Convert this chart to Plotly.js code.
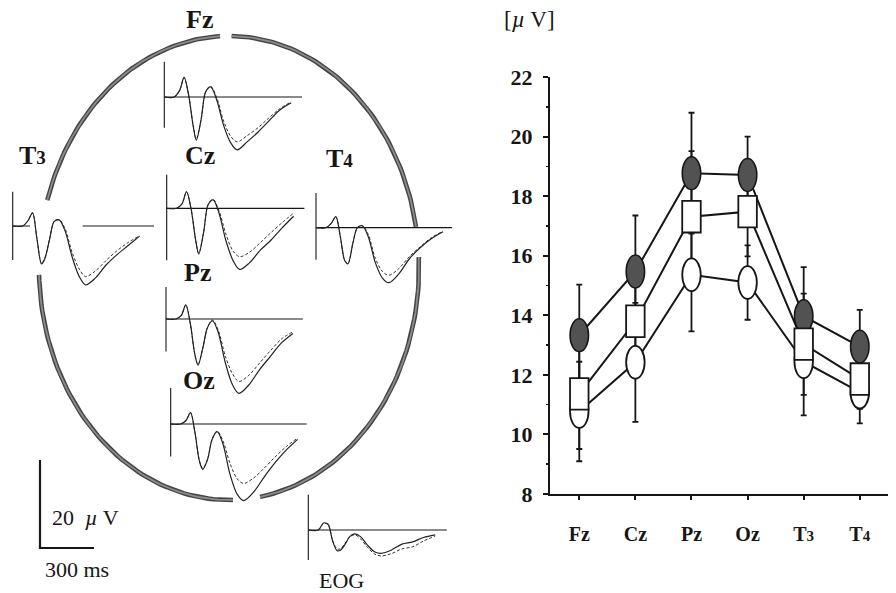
<!DOCTYPE html>
<html><head><meta charset="utf-8">
<script src="https://cdn.plot.ly/plotly-3.0.1.min.js"></script>
<style>html,body{margin:0;padding:0;background:#fff;}#chart{width:896px;height:593px;}</style>
</head><body><div id="chart"></div>
<script>
// ---------- Right panel: amplitude per electrode (µV) ----------
const categories = ['Fz', 'Cz', 'Pz', 'Oz', 'T3', 'T4'];
const tickLabels = ['Fz', 'Cz', 'Pz', 'Oz', 'T<span style="font-size:15px">3</span>', 'T<span style="font-size:15px">4</span>'];
const filledMean = [13.33, 15.47, 18.77, 18.71, 13.97, 12.95];
const filledSD   = [1.70, 1.88, 2.03, 1.29, 1.65, 1.23];
const squareMean = [11.36, 13.80, 17.31, 17.48, 13.03, 11.86];
const squareSD   = [1.85, 1.60, 2.20, 1.50, 1.70, 1.00];
const openMean   = [10.77, 12.42, 15.36, 15.10, 12.44, 11.42];
const openSD     = [1.67, 2.00, 1.90, 1.25, 1.80, 1.05];
const yTicks = [8, 10, 12, 14, 16, 18, 20, 22];

// ---------- Left panel: waveforms (time in ms, amplitude in µV) ----------
const timeMs    = [0, 55, 85, 110, 135, 160, 178, 205, 230, 258, 290, 330, 370, 405, 460, 520, 580, 640, 705];
const fzSolid   = [0, 0, 1.5, 4.5, 0.5, -6.5, -9.8, -5.0, 1.2, 2.3, -0.5, -6.5, -10.5, -12.0, -10.2, -8.0, -5.5, -3.0, -1.3];
const fzDashed  = [0, 0, 1.5, 4.3, 0.5, -6.3, -9.5, -5.0, 1.2, 2.4, 0.0, -5.5, -9.0, -10.2, -8.8, -7.0, -4.8, -2.7, -1.1];
const czSolid   = [0, 0, 1.0, 3.8, 0.0, -7.0, -10.4, -5.5, 0.8, 1.9, -1.0, -7.5, -12.0, -13.9, -12.4, -9.5, -7.2, -4.5, -1.8];
const czDashed  = [0, 0, 1.0, 3.7, 0.0, -7.0, -10.2, -5.5, 0.8, 2.0, -0.5, -6.0, -9.8, -11.0, -10.0, -7.8, -5.5, -3.3, -1.1];
const pzSolid   = [0, 0, 0.8, 3.2, -1.0, -8.0, -10.5, -6.5, -2.0, -0.4, -3.0, -10.0, -15.0, -16.9, -15.0, -11.5, -8.5, -5.5, -3.3];
const pzDashed  = [0, 0, 0.8, 3.2, -1.0, -8.0, -10.3, -6.5, -2.0, -0.2, -2.5, -8.5, -12.5, -14.2, -12.8, -10.0, -7.2, -4.6, -2.9];
const ozSolid   = [0, 0, 0.8, 2.6, -2.0, -8.5, -10.3, -8.0, -3.5, -1.75, -4.5, -11.5, -16.0, -17.4, -15.5, -12.0, -8.8, -6.0, -3.5];
const ozDashed  = [0, 0, 0.8, 2.6, -2.0, -8.5, -10.0, -8.0, -3.5, -1.6, -3.8, -9.0, -12.5, -13.5, -12.3, -10.0, -7.5, -5.2, -3.2];
const t3Solid   = [0, 0, 1.2, 3.0, -3.0, -8.6, -7.5, -3.0, 1.0, 1.4, -1.0, -7.0, -11.5, -13.4, -11.8, -8.8, -6.5, -4.5, -2.3];
const t3Dashed  = [0, 0, 1.2, 3.0, -3.0, -8.5, -7.3, -3.0, 1.0, 1.4, -0.5, -6.0, -9.8, -11.5, -10.2, -7.8, -5.6, -3.8, -2.2];
const t4Solid   = [0, 0, 1.0, 2.5, -2.0, -7.5, -8.2, -3.5, 0.0, 0.4, -2.0, -8.0, -11.5, -12.5, -10.5, -7.0, -4.5, -2.5, -0.9];
const t4Dashed  = [0, 0, 1.0, 2.5, -2.0, -7.5, -8.0, -3.5, 0.0, 0.5, -1.5, -7.0, -10.0, -10.8, -9.3, -6.5, -4.3, -2.3, -0.8];
const eogSolid  = [0, 0, 1.6, 1.3, -2.5, -4.7, -4.6, -3.2, -1.5, -0.9, -1.5, -3.5, -5.0, -5.3, -4.6, -3.2, -2.7, -1.7, -1.1];
const eogDashed = [0, 0, 1.5, 1.2, -2.4, -4.3, -4.3, -3.0, -1.6, -1.1, -2.0, -4.0, -5.5, -5.9, -5.4, -4.3, -3.8, -2.5, -1.4];
const scaleMs = 300;
const scaleUv = 20;

// ---------- layout geometry (pixels) ----------
const W = 896, H = 593;
const PX_PER_MS = 0.18, PX_PER_UV = 4.4;
const SERIF = 'Liberation Serif, Times New Roman, serif';
const INK = '#161616';
const px = x => x / W;
const py = y => 1 - y / H;

const waves = [
  {id: 3, solid: fzSolid,  dashed: fzDashed,  ox: 164.3, oy: 97,    vTop: 8,   vBot: -7,    base: [[0, 765]]},
  {id: 4, solid: czSolid,  dashed: czDashed,  ox: 166.7, oy: 208.3, vTop: 7.6, vBot: -11.8, base: [[0, 765]]},
  {id: 5, solid: pzSolid,  dashed: pzDashed,  ox: 166,   oy: 319,   vTop: 7.3, vBot: -7.4,  base: [[0, 760]]},
  {id: 6, solid: ozSolid,  dashed: ozDashed,  ox: 170.7, oy: 424,   vTop: 8.2, vBot: -7.4,  base: [[0, 755]]},
  {id: 7, solid: t3Solid,  dashed: t3Dashed,  ox: 12.7,  oy: 226,   vTop: 7.8, vBot: -7.7,  base: [[0, 96], [389, 785]]},
  {id: 8, solid: t4Solid,  dashed: t4Dashed,  ox: 316,   oy: 227.7, vTop: 7.9, vBot: -7.3,  base: [[0, 755]]},
  {id: 9, solid: eogSolid, dashed: eogDashed, ox: 308.3, oy: 530,   vTop: 8,   vBot: -6.8,  base: [[0, 769]], yr: [-8, 9.5]}
];

const traces = [];
const layout = {
  width: W, height: H,
  margin: {l: 0, r: 0, t: 0, b: 0, pad: 0},
  paper_bgcolor: '#fff', plot_bgcolor: 'rgba(0,0,0,0)',
  showlegend: false,
  hovermode: false,
  shapes: [],
  annotations: []
};

// ---------- right chart ----------
const xIdx = categories.map((c, i) => i);
function seriesTrace(mean, sd) {
  return {
    type: 'scatter', mode: 'lines', x: xIdx, y: mean, xaxis: 'x', yaxis: 'y',
    line: {color: INK, width: 2},
    error_y: {type: 'data', array: sd, visible: true, color: INK, thickness: 1.8, width: 3},
    hoverinfo: 'skip'
  };
}
traces.push(seriesTrace(filledMean, filledSD));
traces.push(seriesTrace(squareMean, squareSD));
traces.push(seriesTrace(openMean, openSD));

layout.xaxis = {
  domain: [px(550), px(888)], range: [-0.522, 5.503], anchor: 'y',
  tickmode: 'array', tickvals: xIdx, ticktext: tickLabels,
  ticks: 'outside', ticklen: 4, tickwidth: 2, tickcolor: INK,
  showline: true, linewidth: 2, linecolor: INK, showgrid: false, zeroline: false,
  tickfont: {family: SERIF, size: 20, color: INK, weight: 'bold'},
  ticklabelstandoff: 17, fixedrange: true
};
layout.yaxis = {
  domain: [py(494), py(77)], range: [8, 22], anchor: 'x',
  tickmode: 'array', tickvals: yTicks, ticktext: yTicks.map(String),
  ticks: 'outside', ticklen: 5, tickwidth: 2, tickcolor: INK,
  minor: {tickmode: 'linear', tick0: 8, dtick: 1, ticks: 'outside', ticklen: 2, tickwidth: 1.5, tickcolor: INK, showgrid: false},
  showline: true, linewidth: 2, linecolor: INK, showgrid: false, zeroline: false,
  tickfont: {family: SERIF, size: 22, color: INK, weight: 'bold'},
  ticklabelstandoff: 6, fixedrange: true
};

// markers as shapes in data coordinates (tall ellipses / rectangles)
const EW = 0.165, EH = 0.55, RW = 0.165, RH = 0.53;
filledMean.forEach((v, i) => layout.shapes.push({type: 'circle', xref: 'x', yref: 'y', layer: 'above',
  x0: i - EW, x1: i + EW, y0: v - EH, y1: v + EH, fillcolor: '#525252', line: {color: INK, width: 1.5}}));
openMean.forEach((v, i) => layout.shapes.push({type: 'circle', xref: 'x', yref: 'y', layer: 'above',
  x0: i - EW, x1: i + EW, y0: v - EH, y1: v + EH, fillcolor: '#fff', line: {color: INK, width: 1.8}}));
squareMean.forEach((v, i) => layout.shapes.push({type: 'rect', xref: 'x', yref: 'y', layer: 'above',
  x0: i - RW, x1: i + RW, y0: v - RH, y1: v + RH, fillcolor: '#fff', line: {color: INK, width: 1.8}}));

// ---------- head outline (canvas axis in pixel units) ----------
layout.xaxis2 = {domain: [0, px(500)], range: [0, 500], visible: false, anchor: 'y2', fixedrange: true};
layout.yaxis2 = {domain: [0, 1], range: [H, 0], visible: false, anchor: 'x2', fixedrange: true};
const head = {cx: 229, cy: 268, rx: 190, ry: 232};
const arcs = [[-89.2, -10.2], [-2.7, 80.6], [88.8, 178.3], [197, 267.3]];
arcs.forEach(([a0, a1]) => {
  const xs = [], ys = [];
  for (let a = a0; a <= a1 + 1e-9; a += (a1 - a0) / 60) {
    const r = a * Math.PI / 180;
    xs.push(head.cx + head.rx * Math.cos(r));
    ys.push(head.cy + head.ry * Math.sin(r));
  }
  traces.push({type: 'scatter', mode: 'lines', x: xs, y: ys, xaxis: 'x2', yaxis: 'y2',
    line: {color: '#444', width: 4.6}, hoverinfo: 'skip'});
  traces.push({type: 'scatter', mode: 'lines', x: xs, y: ys, xaxis: 'x2', yaxis: 'y2',
    line: {color: '#8c8c8c', width: 1.8}, hoverinfo: 'skip'});
});

// ---------- waveforms, each on its own ms / µV axes ----------
waves.forEach(w => {
  const xr = [-40, 820];
  const yr = w.yr || [-20, 10];
  layout['xaxis' + w.id] = {domain: [px(w.ox + xr[0] * PX_PER_MS), px(w.ox + xr[1] * PX_PER_MS)],
    range: xr, visible: false, anchor: 'y' + w.id, fixedrange: true};
  layout['yaxis' + w.id] = {domain: [py(w.oy - yr[0] * PX_PER_UV), py(w.oy - yr[1] * PX_PER_UV)],
    range: yr, visible: false, anchor: 'x' + w.id, fixedrange: true};
  const xa = 'x' + w.id, ya = 'y' + w.id;
  const bx = [], by = [];
  w.base.forEach((seg, k) => { if (k) { bx.push(null); by.push(null); } bx.push(seg[0], seg[1]); by.push(0, 0); });
  traces.push({type: 'scatter', mode: 'lines', x: bx, y: by, xaxis: xa, yaxis: ya,
    line: {color: INK, width: 1.2}, hoverinfo: 'skip', connectgaps: false});
  traces.push({type: 'scatter', mode: 'lines', x: [0, 0], y: [w.vBot, w.vTop], xaxis: xa, yaxis: ya,
    line: {color: INK, width: 1.1}, hoverinfo: 'skip'});
  traces.push({type: 'scatter', mode: 'lines', x: timeMs, y: w.dashed, xaxis: xa, yaxis: ya,
    line: {color: '#333', width: 1, dash: '3px,2px', shape: 'spline', smoothing: 0.9}, hoverinfo: 'skip'});
  traces.push({type: 'scatter', mode: 'lines', x: timeMs, y: w.solid, xaxis: xa, yaxis: ya,
    line: {color: '#222', width: 1.2, shape: 'spline', smoothing: 0.9}, hoverinfo: 'skip'});
});

// ---------- calibration bar ----------
(function () {
  const id = 10, ox = 40, oy = 548, xr = [-20, 330], yr = [-3, 23];
  layout['xaxis' + id] = {domain: [px(ox + xr[0] * PX_PER_MS), px(ox + xr[1] * PX_PER_MS)], range: xr, visible: false, anchor: 'y' + id, fixedrange: true};
  layout['yaxis' + id] = {domain: [py(oy - yr[0] * PX_PER_UV), py(oy - yr[1] * PX_PER_UV)], range: yr, visible: false, anchor: 'x' + id, fixedrange: true};
  traces.push({type: 'scatter', mode: 'lines', x: [0, 0, scaleMs], y: [scaleUv, 0, 0], xaxis: 'x10', yaxis: 'y10',
    line: {color: INK, width: 2.2}, hoverinfo: 'skip'});
})();

// ---------- text ----------
function label(text, x, y, size, bold, extra) {
  layout.annotations.push(Object.assign({
    text: text, x: px(x), y: py(y), xref: 'paper', yref: 'paper', showarrow: false,
    xanchor: 'center', yanchor: 'middle',
    font: {family: SERIF, size: size, color: INK, weight: bold ? 'bold' : 'normal'}
  }, extra || {}));
}
label('Fz', 199, 20, 26, true);
label('Cz', 200, 155, 26, true);
label('Pz', 197, 273, 26, true);
label('Oz', 199, 380, 26, true);
label('T<span style="font-size:19px">3</span>', 32, 155, 26, true);
label('T<span style="font-size:19px">4</span>', 339, 158, 26, true);
label('20&nbsp;&nbsp;<i>µ</i> V', 85, 517, 22, false);
label('300 ms', 77, 569, 22, false);
label('EOG', 341, 580, 22, false);
label('[<i>µ</i> V]', 529, 20, 23, false);

Plotly.newPlot('chart', traces, layout, {staticPlot: true, displayModeBar: false});
</script>
</body></html>
